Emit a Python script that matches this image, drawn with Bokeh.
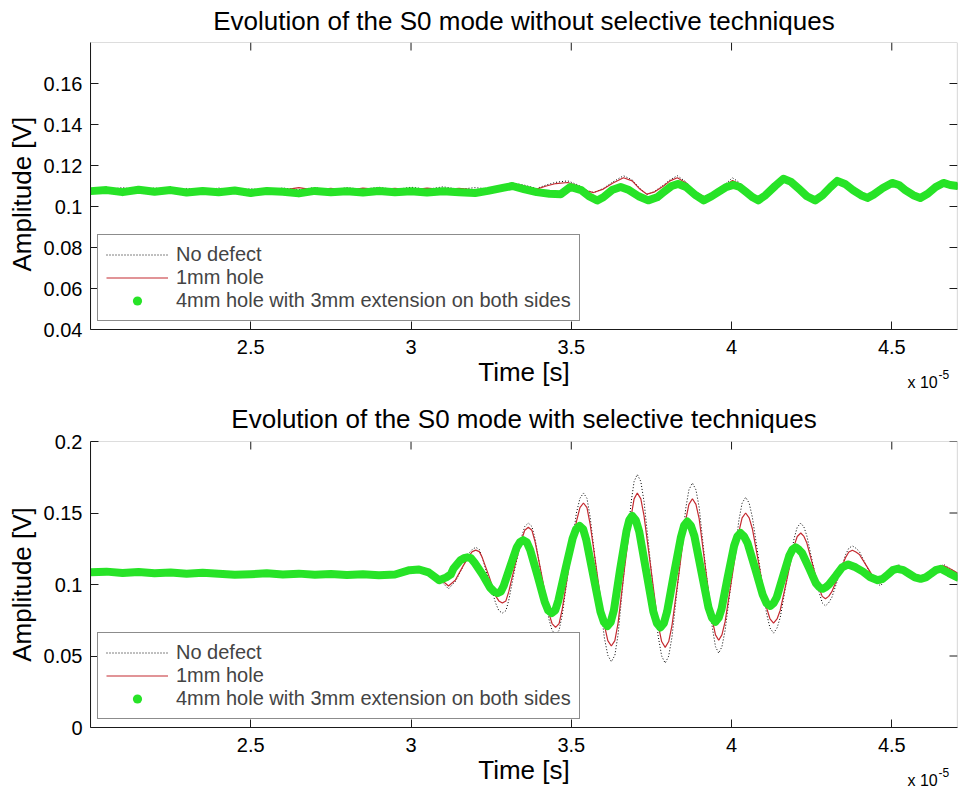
from bokeh.plotting import figure
from bokeh.layouts import column
from bokeh.models import Range1d, FixedTicker, Legend, LegendItem, Label, BoxAnnotation
from bokeh.embed import file_html
from bokeh.resources import INLINE

FONT = "Liberation Sans"

# ---------------- data (time in units of 1e-5 s, amplitude in V) ----------------
x_limits = [2.0, 4.705]
x_ticks = [2.5, 3.0, 3.5, 4.0, 4.5]
x_tick_labels = ["2.5", "3", "3.5", "4", "4.5"]

top_title = "Evolution of the S0 mode without selective techniques"
bottom_title = "Evolution of the S0 mode with selective techniques"
series_names = ["No defect", "1mm hole", "4mm hole with 3mm extension on both sides"]
x_label = "Time [s]"
y_label = "Amplitude [V]"

top_y_limits = [0.04, 0.18]
top_y_ticks = [0.04, 0.06, 0.08, 0.10, 0.12, 0.14, 0.16]
top_y_tick_labels = ["0.04", "0.06", "0.08", "0.1", "0.12", "0.14", "0.16"]

bottom_y_limits = [0.0, 0.2]
bottom_y_ticks = [0.0, 0.05, 0.10, 0.15, 0.2]
bottom_y_tick_labels = ["0", "0.05", "0.1", "0.15", "0.2"]

# --- top panel (without selective techniques)
top_t_ref = [2.00, 2.05, 2.10, 2.15, 2.20, 2.25, 2.30, 2.35, 2.40, 2.45,
             2.50, 2.55, 2.60, 2.65, 2.70, 2.75, 2.80, 2.85, 2.90, 2.95,
             3.00, 3.05, 3.10, 3.15, 3.20, 3.24, 3.29, 3.316, 3.352, 3.392,
             3.422, 3.452, 3.489, 3.521, 3.550, 3.570, 3.600, 3.630, 3.663, 3.690,
             3.714, 3.736, 3.758, 3.788, 3.808, 3.831, 3.858, 3.888, 3.925, 3.948,
             3.978, 4.003, 4.026, 4.046, 4.066, 4.083, 4.106, 4.136, 4.162, 4.186,
             4.211, 4.235, 4.261, 4.284, 4.309, 4.330, 4.354, 4.379, 4.404, 4.424,
             4.443, 4.472, 4.501, 4.522, 4.542, 4.567, 4.589, 4.612, 4.637, 4.661,
             4.682, 4.705]
top_nodefect = [.1088, .1082, .1092, .1080, .1090, .1082, .1088, .1078, .1090, .1080,
                .1086, .1080, .1090, .1082, .1092, .1080, .1092, .1084, .1094, .1082,
                .1094, .1084, .1096, .1084, .1092, .1086, .1105, .1115, .1105, .1088,
                .1105, .1118, .1125, .1105, .1078, .1068, .1088, .1120, .1150, .1130,
                .1088, .1058, .1072, .1105, .1130, .1150, .1120, .1070, .1035, .1058,
                .1105, .1140, .1115, .1075, .1045, .1030, .1058, .1110, .1150, .1130,
                .1090, .1050, .1028, .1058, .1102, .1135, .1118, .1085, .1058, .1040,
                .1060, .1098, .1130, .1115, .1085, .1058, .1044, .1066, .1102, .1130,
                .1115, .1105]
top_hole1 = [.1085, .1090, .1078, .1088, .1080, .1086, .1076, .1084, .1078, .1086,
             .1074, .1088, .1080, .1092, .1080, .1088, .1078, .1090, .1082, .1088,
             .1080, .1090, .1082, .1088, .1080, .1086, .1100, .1110, .1100, .1085,
             .1100, .1112, .1117, .1100, .1075, .1068, .1085, .1115, .1140, .1125,
             .1085, .1060, .1070, .1100, .1125, .1140, .1115, .1070, .1040, .1060,
             .1100, .1127, .1110, .1075, .1050, .1035, .1060, .1105, .1140, .1125,
             .1090, .1055, .1035, .1060, .1100, .1130, .1115, .1085, .1060, .1045,
             .1062, .1095, .1125, .1112, .1085, .1060, .1048, .1068, .1100, .1125,
             .1112, .1105]
top_t_green = [2.00, 2.05, 2.10, 2.15, 2.20, 2.25, 2.30, 2.35, 2.40, 2.45,
               2.50, 2.55, 2.60, 2.65, 2.70, 2.75, 2.80, 2.85, 2.90, 2.95,
               3.00, 3.05, 3.10, 3.15, 3.20, 3.24, 3.29, 3.316, 3.352, 3.392,
               3.432, 3.467, 3.497, 3.531, 3.555, 3.581, 3.600, 3.627, 3.654, 3.680,
               3.710, 3.740, 3.768, 3.788, 3.813, 3.834, 3.858, 3.888, 3.913, 3.938,
               3.958, 3.983, 4.006, 4.026, 4.046, 4.066, 4.083, 4.106, 4.136, 4.162,
               4.186, 4.211, 4.235, 4.261, 4.284, 4.309, 4.330, 4.354, 4.379, 4.404,
               4.424, 4.443, 4.472, 4.501, 4.522, 4.542, 4.567, 4.589, 4.612, 4.637,
               4.661, 4.682, 4.705]
top_hole4 = [.1075, .1080, .1070, .1082, .1072, .1080, .1068, .1076, .1070, .1078,
             .1066, .1076, .1072, .1064, .1076, .1070, .1074, .1068, .1076, .1070,
             .1074, .1068, .1074, .1070, .1066, .1076, .1092, .1100, .1085, .1070,
             .1062, .1060, .1095, .1080, .1050, .1029, .1045, .1080, .1095, .1080,
             .1050, .1030, .1045, .1070, .1100, .1110, .1095, .1055, .1030, .1050,
             .1070, .1095, .1105, .1095, .1070, .1045, .1030, .1055, .1100, .1135,
             .1120, .1085, .1050, .1030, .1055, .1095, .1125, .1110, .1080, .1055,
             .1042, .1058, .1090, .1115, .1105, .1080, .1055, .1042, .1062, .1095,
             .1115, .1105, .1100]

# --- bottom panel (with selective techniques)
bot_t_ref = [2.00, 2.10, 2.20, 2.30, 2.40, 2.50, 2.60, 2.70, 2.80, 2.90,
             2.95, 2.995, 3.045, 3.075, 3.117,
             3.138, 3.160, 3.181, 3.202, 3.222, 3.243, 3.264, 3.285,
             3.305, 3.325, 3.346, 3.366, 3.387, 3.409, 3.430, 3.451,
             3.472, 3.494, 3.516, 3.538, 3.559, 3.581, 3.603, 3.625,
             3.646, 3.666, 3.687, 3.706, 3.727, 3.749, 3.771, 3.793,
             3.814, 3.836, 3.857, 3.878, 3.899, 3.919, 3.940, 3.960,
             3.980, 4.002, 4.023, 4.044, 4.065, 4.087, 4.109, 4.131,
             4.152, 4.174, 4.195, 4.216, 4.235, 4.254, 4.274, 4.293,
             4.313, 4.335, 4.356, 4.377, 4.399, 4.421, 4.443, 4.465,
             4.478, 4.493, 4.507, 4.521, 4.539, 4.556, 4.573, 4.591,
             4.609, 4.627, 4.644, 4.662, 4.682, 4.705]
bot_nodefect = [.1092, .1082, .1086, .1078, .1082, .1074, .1082, .1076, .1084, .1072,
                .1078, .1108, .1098, .1065, .097,
                .102, .1115, .122, .126, .119, .103, .087, .080,
                .089, .112, .134, .143, .132, .104, .076, .065,
                .079, .115, .150, .164, .147, .105, .063, .046,
                .065, .112, .158, .177, .158, .111, .064, .045,
                .063, .108, .153, .171, .154, .112, .070, .052,
                .068, .107, .145, .161, .147, .114, .080, .066,
                .077, .105, .132, .143, .134, .114, .094, .085,
                .091, .106, .121, .127, .123, .113, .103, .099,
                .103, .1065, .111, .114, .111, .109, .106, .104,
                .106, .109, .112, .114, .111, .108]
bot_hole1 = [.1090, .1085, .1082, .1080, .1078, .1075, .1078, .1072, .1080, .1070,
             .1075, .1105, .1100, .1070, .099,
             .103, .112, .120, .124, .119, .106, .092, .087,
             .095, .114, .132, .140, .130, .105, .080, .070,
             .083, .114, .144, .157, .142, .107, .072, .057,
             .073, .111, .148, .164, .148, .110, .072, .056,
             .071, .108, .145, .160, .146, .111, .075, .061,
             .074, .106, .137, .150, .139, .112, .084, .073,
             .082, .105, .127, .136, .129, .113, .097, .090,
             .095, .107, .119, .124, .121, .113, .105, .101,
             .104, .1065, .110, .112, .111, .109, .107, .106,
             .107, .1095, .112, .113, .111, .108]
# extra samples read just either side of each crest and trough (bottom panel)
bot_t_ref_near = [3.191, 3.213, 3.274, 3.296, 3.355, 3.377, 3.440, 3.462,
                  3.527, 3.549, 3.614, 3.636, 3.696, 3.717, 3.782, 3.804,
                  3.867, 3.889, 3.950, 3.970, 4.033, 4.055, 4.120, 4.142,
                  4.205, 4.226, 4.283, 4.303, 4.366, 4.388]
bot_nodefect_near = [.1245, .1245, .0817, .0817, .1406, .1406, .0680, .0680,
                     .1602, .1602, .0505, .0505, .1720, .1720, .0500, .0500,
                     .1662, .1662, .0565, .0565, .1569, .1569, .0696, .0696,
                     .1401, .1401, .0872, .0872, .1254, .1254]
bot_hole1_near = [.1230, .1230, .0885, .0885, .1380, .1380, .0727, .0727,
                  .1537, .1537, .0608, .0608, .1599, .1599, .0601, .0601,
                  .1560, .1560, .0648, .0648, .1466, .1466, .0759, .0759,
                  .1336, .1336, .0917, .0917, .1227, .1227]
bot_t_green = [2.00, 2.05, 2.10, 2.15, 2.20, 2.25, 2.30, 2.35, 2.40, 2.45,
               2.50, 2.55, 2.60, 2.65, 2.70, 2.75, 2.80, 2.85, 2.90, 2.95,
               2.995, 3.025, 3.055, 3.088, 3.110,
               3.124, 3.132, 3.154, 3.176, 3.199, 3.223, 3.246, 3.270,
               3.289, 3.310, 3.330, 3.350, 3.372, 3.395, 3.417, 3.439,
               3.460, 3.482, 3.504, 3.526, 3.547, 3.569, 3.591, 3.613,
               3.633, 3.652, 3.672, 3.690, 3.712, 3.734, 3.756, 3.778,
               3.799, 3.820, 3.842, 3.862, 3.884, 3.906, 3.928, 3.950,
               3.969, 3.988, 4.008, 4.028, 4.050, 4.074, 4.097, 4.121,
               4.141, 4.161, 4.180, 4.200, 4.220, 4.241, 4.263, 4.284,
               4.304, 4.325, 4.345, 4.364, 4.387, 4.410, 4.433, 4.456,
               4.472, 4.488, 4.503, 4.518, 4.536, 4.554, 4.572, 4.590,
               4.606, 4.622, 4.637, 4.653, 4.678, 4.705]
bot_hole4 = [.1085, .1090, .1080, .1088, .1078, .1084, .1075, .1082, .1076, .1068,
             .1072, .1078, .1070, .1076, .1068, .1074, .1066, .1072, .1064, .1070,
             .1100, .1105, .1085, .1030, .1050,
             .1070, .111, .117, .119, .115, .107, .098, .094,
             .099, .113, .126, .131, .124, .106, .088, .080,
             .089, .111, .132, .141, .131, .106, .081, .071,
             .082, .110, .137, .148, .137, .109, .081, .070,
             .081, .107, .133, .144, .134, .109, .084, .074,
             .083, .105, .127, .136, .129, .111, .093, .085,
             .091, .106, .120, .126, .122, .112, .101, .097,
             .100, .106, .112, .114, .112, .109, .105, .103,
             .104, .107, .110, .111, .110, .1075, .105, .104,
             .105, .1075, .110, .111, .108, .105]
bot_t_green_near = [3.165, 3.187, 3.259, 3.280, 3.340, 3.361, 3.428, 3.450,
                    3.515, 3.537, 3.602, 3.623, 3.681, 3.701, 3.767, 3.789,
                    3.852, 3.873, 3.939, 3.960, 4.018, 4.039, 4.109, 4.131,
                    4.190, 4.210, 4.274, 4.294]
bot_hole4_near = [.1184, .1184, .0950, .0950, .1296, .1296, .0819, .0819,
                  .1387, .1387, .0737, .0737, .1451, .1451, .0730, .0730,
                  .1412, .1412, .0767, .0767, .1336, .1336, .0869, .0869,
                  .1244, .1244, .0981, .0981]

GREEN = "#27e327"
RED = "#c42a30"
AXIS = "#1a1a1a"
FIG_W = 958
FIG_H = 396
NBSP = "\u00a0"


def merged(t_main, v_main, t_more=(), v_more=()):
    pairs = sorted(list(zip(t_main, v_main)) + list(zip(t_more, v_more)))
    return [a for a, _ in pairs], [b for _, b in pairs]


def make_panel(title, ylim, yticks, ylabels, none_vals, h1_vals, green,
               frame_top, box_bottom, legend_pos, title_standoff, ylabel_pad):
    # the frame runs down to the figure's bottom edge so that the x axis
    # (fixed at the lower y limit) and its texts are drawn inside it
    data_px = box_bottom - frame_top
    axis_px = FIG_H - box_bottom
    y_start = ylim[0] - axis_px / data_px * (ylim[1] - ylim[0])

    p = figure(width=FIG_W, height=FIG_H, output_backend="svg", toolbar_location=None,
               x_range=Range1d(*x_limits), y_range=Range1d(y_start, ylim[1]),
               min_border_left=90, min_border_right=1,
               min_border_top=frame_top, min_border_bottom=0,
               background_fill_color="white", border_fill_color="white")
    p.title.text = title
    p.title.text_font = FONT
    p.title.text_font_size = "26px"
    p.title.text_font_style = "normal"
    p.title.text_color = "black"
    p.title.align = "center"
    p.title.vertical_align = "top"
    p.title.standoff = title_standoff

    p.xgrid.visible = False
    p.ygrid.visible = False
    p.outline_line_color = None

    xa = p.xaxis[0]
    ya = p.yaxis[0]
    xa.ticker = FixedTicker(ticks=x_ticks)
    xa.major_label_overrides = dict(zip(x_ticks, x_tick_labels))
    xa.axis_label = x_label
    xa.fixed_location = ylim[0]
    ya.ticker = FixedTicker(ticks=yticks)
    ya.major_label_overrides = dict(zip(yticks, ylabels))
    # leading no-break spaces lift the label to the middle of the visible box
    ya.axis_label = NBSP * ylabel_pad + y_label
    ya.bounds = (ylim[0], ylim[1])
    for ax in (xa, ya):
        ax.major_tick_in = 8
        ax.major_tick_out = 0
        ax.minor_tick_line_color = None
        ax.axis_line_color = AXIS
        ax.major_tick_line_color = AXIS
        ax.major_label_text_font = FONT
        ax.major_label_text_font_size = "20px"
        ax.major_label_text_color = "black"
        ax.axis_label_text_font = FONT
        ax.axis_label_text_font_size = "26px"
        ax.axis_label_text_font_style = "normal"
        ax.axis_label_text_color = "black"
    xa.major_label_standoff = 10
    xa.axis_label_standoff = 0
    ya.major_label_standoff = 8
    ya.axis_label_standoff = 4

    # box round the data area, with inward ticks on its top and right sides
    p.add_layout(BoxAnnotation(left=x_limits[0], right=x_limits[1], bottom=ylim[0], top=ylim[1],
                               fill_color=None, fill_alpha=0, line_color=AXIS, line_width=1.2))
    p.ray(x=x_ticks, y=[ylim[1]] * len(x_ticks), length=8, length_units="screen",
          angle=-90, angle_units="deg", line_color=AXIS, line_width=1)
    p.ray(x=[x_limits[1]] * len(yticks), y=yticks, length=8, length_units="screen",
          angle=180, angle_units="deg", line_color=AXIS, line_width=1)

    t_n, v_n = none_vals
    t_r, v_r = h1_vals
    t_g, v_g = green
    r_none = p.line(t_n, v_n, line_color="black", line_width=1, line_dash="1 2")
    r_h1 = p.line(t_r, v_r, line_color=RED, line_width=1.2)
    p.line(t_g, v_g, line_color=GREEN, line_width=8, line_join="round", line_cap="round")
    r_h4 = p.scatter(t_g, v_g, size=6, marker="circle", fill_color=GREEN, line_color=None)

    legend = Legend(items=[LegendItem(label=series_names[0], renderers=[r_none]),
                           LegendItem(label=series_names[1], renderers=[r_h1]),
                           LegendItem(label=series_names[2], renderers=[r_h4])],
                    location=legend_pos, padding=8, spacing=0,
                    glyph_width=62, glyph_height=23, label_standoff=8,
                    label_text_font=FONT, label_text_font_size="20px",
                    border_line_color=AXIS, border_line_width=1,
                    background_fill_alpha=1.0)
    p.add_layout(legend, "center")

    p.add_layout(Label(x=x_limits[1], y=ylim[0], x_offset=-50, y_offset=-53,
                       text="x 10", text_font=FONT, text_font_size="16px",
                       text_color="black", text_baseline="alphabetic"))
    p.add_layout(Label(x=x_limits[1], y=ylim[0], x_offset=-19, y_offset=-45,
                       text="-5", text_font=FONT, text_font_size="12px",
                       text_color="black", text_baseline="alphabetic"))
    return p


p_top = make_panel(top_title, top_y_limits, top_y_ticks, top_y_tick_labels,
                   merged(top_t_ref, top_nodefect),
                   merged(top_t_ref, top_hole1),
                   merged(top_t_green, top_hole4),
                   frame_top=42, box_bottom=329, legend_pos=(7, 75),
                   title_standoff=9, ylabel_pad=7)
p_bot = make_panel(bottom_title, bottom_y_limits, bottom_y_ticks, bottom_y_tick_labels,
                   merged(bot_t_ref, bot_nodefect, bot_t_ref_near, bot_nodefect_near),
                   merged(bot_t_ref, bot_hole1, bot_t_ref_near, bot_hole1_near),
                   merged(bot_t_green, bot_hole4, bot_t_green_near, bot_hole4_near),
                   frame_top=45, box_bottom=331, legend_pos=(7, 73),
                   title_standoff=12, ylabel_pad=9)

p = column(p_top, p_bot)
open("out.html", "w").write(file_html(p, INLINE))
